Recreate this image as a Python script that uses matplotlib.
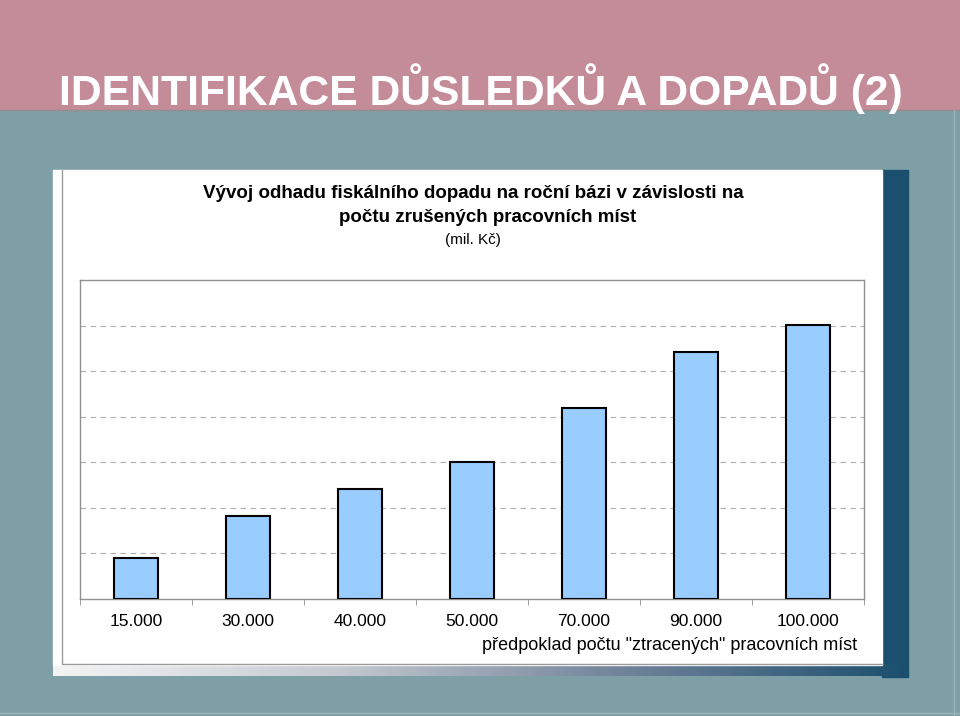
import numpy as np
import matplotlib
matplotlib.use("Agg")
import matplotlib.pyplot as plt
from matplotlib.patches import Rectangle
from matplotlib.colors import LinearSegmentedColormap

plt.rcParams['font.family'] = ['Liberation Sans', 'DejaVu Sans']

# data (odhad fiskalniho dopadu, mil. Kc -- y scale has no labels in the original)
categories = ["15.000", "30.000", "40.000", "50.000", "70.000", "90.000", "100.000"]
values = [0.90, 1.82, 2.41, 3.00, 4.19, 5.42, 6.01]

slide_title = "IDENTIFIKACE DŮSLEDKŮ A DOPADŮ (2)"
title_line1 = "Vývoj odhadu fiskálního dopadu na roční bázi v závislosti na"
title_line2 = "počtu zrušených pracovních míst"
unit_label = "(mil. Kč)"
x_label = "předpoklad počtu \"ztracených\" pracovních míst"

W, H = 960, 716
fig = plt.figure(figsize=(W / 100, H / 100), dpi=100)

# background drawn in pixel coords
bg = fig.add_axes([0, 0, 1, 1])
bg.set_xlim(0, W)
bg.set_ylim(H, 0)
bg.axis("off")

teal = "#7f9fa6"
bg.add_patch(Rectangle((0, 0), W, H, color=teal))
bg.add_patch(Rectangle((0, 0), W, 110, color="#c48b98"))
bg.plot([0, W], [110, 110], color="#8a8f96", lw=1)
bg.plot([954, 954], [110, H], color="#9ab4ba", lw=1)
bg.plot([0, W], [713, 713], color="#9ab4ba", lw=1)

# shadow of the chart panel
bg.add_patch(Rectangle((882, 170), 26, 507, color="#1b4f6e"))
shade = LinearSegmentedColormap.from_list("shade", ["#f4f4f4", "#c4c9d0", "#71839a", "#1b4f6e"])
grad = np.linspace(0, 1, 256).reshape(1, -1)
bg.imshow(grad, cmap=shade, extent=[53, 908, 676, 664], aspect="auto", zorder=1)

# white panel
bg.add_patch(Rectangle((53, 170), 829, 495, color="white", zorder=2))
bg.plot([62, 62, 882], [170, 664, 664], color="#9a9a9a", lw=1, zorder=3)

bg.text(481, 89, slide_title, color="white", fontsize=30.7, fontweight="bold",
        ha="center", va="center")

bg.text(473, 194, title_line1, fontsize=13.5, fontweight="bold", ha="center", va="center", zorder=4)
bg.text(488, 217, title_line2, fontsize=13.5, fontweight="bold", ha="center", va="center", zorder=4)
bg.text(473, 240, unit_label, fontsize=11, ha="center", va="center", zorder=4)
bg.text(857, 646, x_label, fontsize=13, ha="right", va="center", zorder=4)

# chart area
ax = fig.add_axes([80 / W, 1 - 599 / H, 784 / W, 319 / H], zorder=5)
x = np.arange(len(categories))
ax.bar(x, values, width=0.4, color="#99ccff", edgecolor="black", linewidth=1.5, zorder=3)
ax.set_xlim(-0.5, len(categories) - 0.5)
ax.set_ylim(0, 7)
ax.set_yticks(np.arange(1, 7))
ax.set_yticklabels([])
ax.tick_params(axis="y", length=0)
ax.grid(axis="y", color="#b0b0b0", linestyle=(0, (5, 4)), linewidth=0.8, zorder=0)

ax.set_xticks(x)
ax.set_xticklabels(categories, fontsize=12.5)
ax.tick_params(axis="x", which="major", length=0, pad=11)
ax.set_xticks(np.arange(-0.5, len(categories)), minor=True)
ax.tick_params(axis="x", which="minor", length=4, color="#909090", direction="out")

for s in ax.spines.values():
    s.set_color("#909090")
    s.set_linewidth(1)

fig.savefig("out.png", dpi=100)
